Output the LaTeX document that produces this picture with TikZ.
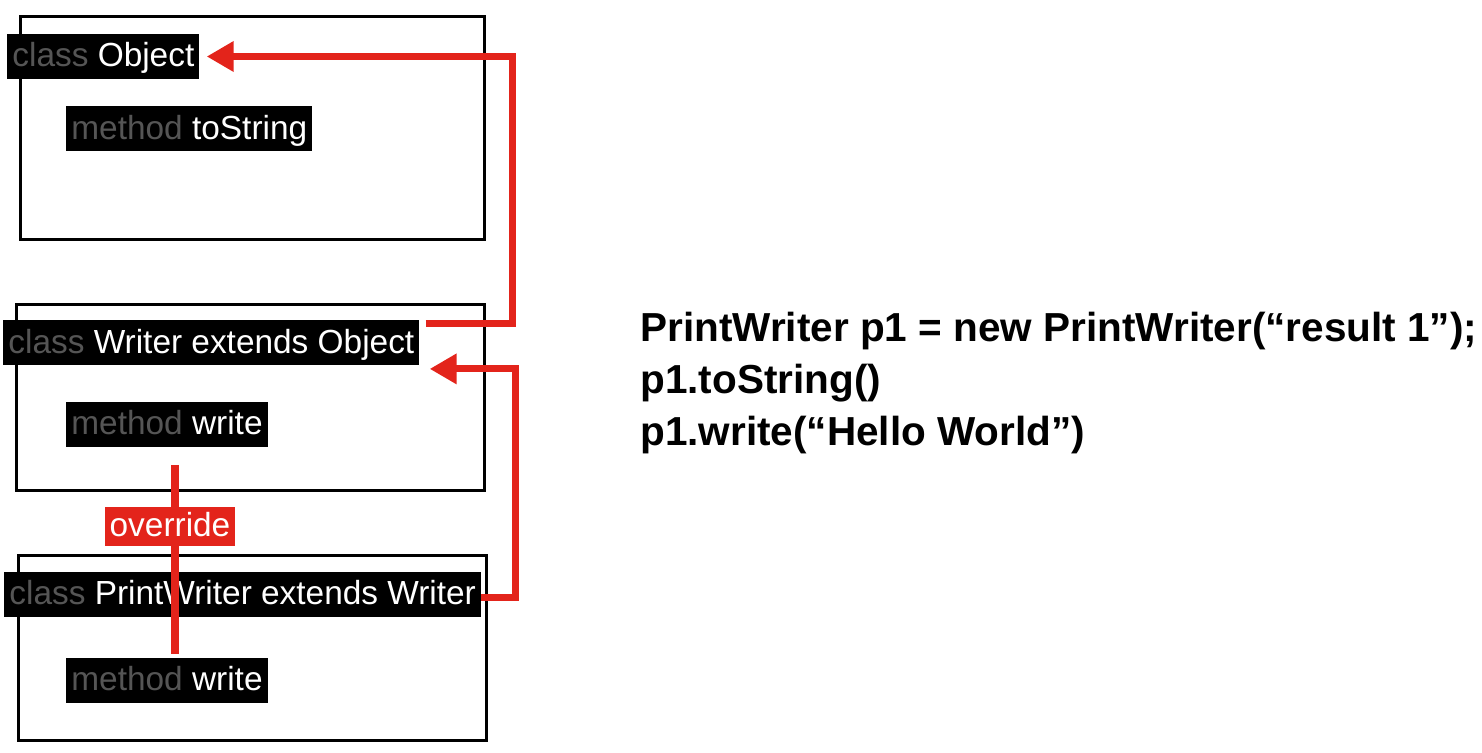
\documentclass[tikz,border=0pt]{standalone}
\usepackage{fontspec}
\setmainfont{Liberation Sans}
\usetikzlibrary{arrows.meta,positioning}
\definecolor{linkred}{HTML}{E3241B}
\definecolor{kwgray}{HTML}{555555}
\newcommand{\kw}[1]{\textcolor{kwgray}{#1}}
\tikzset{
  lbl/.style={fill=black, text=white, anchor=west, inner xsep=2.5pt, inner ysep=0pt,
    minimum height=22.5pt, text height=13pt, text depth=2.7pt, font=\fontsize{16.7pt}{20pt}\selectfont},
  classbox/.style={draw=black, line width=1.5pt},
  link/.style={draw=linkred, line width=3.5pt, -{Triangle[length=13.5pt,width=14.5pt]}}
}
\begin{document}
\begin{tikzpicture}[x=0.5pt,y=-0.5pt]
    \useasboundingbox (0,0) rectangle (1482,753);
    \draw[classbox] (20,17) rectangle (484,240);
    \draw[classbox] (16,305) rectangle (484,490);
    \draw[classbox] (18,555) rectangle (486,740);
    \node[lbl] (obj) at (7,56.5) {\kw{class} Object};
    \node[lbl] (tostr) at (66,129) {\kw{method} toString};
    \node[lbl] (wr) at (3,343) {\kw{class} Writer extends Object};
    \node[lbl] (wrm) at (66,424) {\kw{method} write};
    \node[lbl] (pw) at (4,594) {\kw{class} PrintWriter extends Writer};
    \node[lbl] (pwm) at (66,680) {\kw{method} write};
    \coordinate (rail1) at (512,0);
    \coordinate (rail2) at (515,0);
    \draw[link] ([xshift=3pt,yshift=-1.5pt]wr.north east) -| (rail1 |- obj.east) -- ([xshift=3.5pt]obj.east);
    \draw[link] ([yshift=-1.5pt]pw.east) -| ([yshift=-1.5pt]rail2 |- wr.south east) -- ([xshift=5pt,yshift=-1.5pt]wr.south east);
    \draw[linkred, line width=4pt] ([xshift=4pt,yshift=-9pt]wrm.south) -- ([xshift=4pt,yshift=1.5pt]pwm.north);
    \node[lbl, anchor=center, fill=linkred, minimum height=19.5pt] (ovr) at (170,526) {override};
    \node[anchor=north west, align=left, inner sep=0pt, font=\bfseries\fontsize{20.25pt}{26pt}\selectfont] (code) at (640,312)
      {PrintWriter p1 = new PrintWriter(“result 1”);\\ p1.toString()\\ p1.write(“Hello World”)};
\end{tikzpicture}
\end{document}
